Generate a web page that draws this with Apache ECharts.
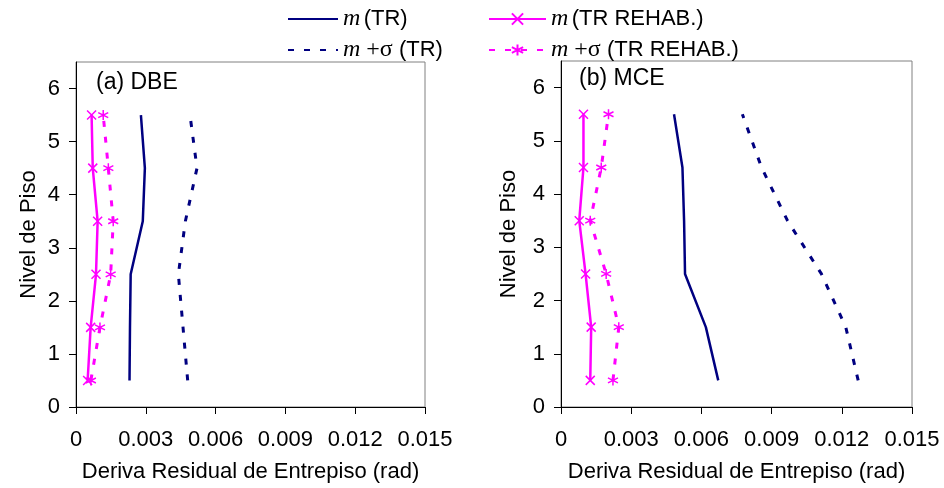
<!DOCTYPE html>
<html>
<head>
<meta charset="utf-8">
<script src="https://cdn.jsdelivr.net/npm/echarts@6/dist/echarts.min.js"></script>
<style>
  html, body { margin: 0; padding: 0; background: #fff; }
  #chart { width: 944px; height: 488px; }
</style>
</head>
<body>
<div id="chart"></div>
<script>
// floor levels (y) shared by both panels
const floors = [0.5, 1.5, 2.5, 3.5, 4.5, 5.5];
const yTicks = [0, 1, 2, 3, 4, 5, 6];

// (a) DBE - residual drift per floor
const dbeMeanTR = [0.0023, 0.00232, 0.00235, 0.00287, 0.00296, 0.00279];
const dbeSigmaTR = [0.0048, 0.0046, 0.0044, 0.0047, 0.0052, 0.0049];
const dbeMeanRehab = [0.0005, 0.00063, 0.00086, 0.00093, 0.00072, 0.00067];
const dbeSigmaRehab = [0.00064, 0.00103, 0.00149, 0.0016, 0.00139, 0.00117];

// (b) MCE
const mceMeanTR = [0.00672, 0.00619, 0.0053, 0.00526, 0.00519, 0.00483];
const mceSigmaTR = [0.0127, 0.01217, 0.01113, 0.00968, 0.00857, 0.00775];
const mceMeanRehab = [0.00125, 0.00129, 0.00105, 0.00078, 0.00096, 0.00096];
const mceSigmaRehab = [0.00222, 0.00247, 0.00193, 0.00125, 0.00172, 0.00203];

const NAVY = '#000080';
const MAGENTA = '#ff00ff';
const crossIcon = 'path://M0,0L10,10M10,0L0,10';
const starIcon = 'path://M5,0L5,10M0.7,2.5L9.3,7.5M0.7,7.5L9.3,2.5';

const font = 'Liberation Sans, Arial, sans-serif';
const serif = 'Liberation Serif, Times New Roman, serif';

const pairs = (xs) => xs.map((x, i) => [x, floors[i]]);

function makeSeries(idx, meanTR, sigmaTR, meanRehab, sigmaRehab) {
  return [
    {
      name: 'm (TR)', type: 'line', xAxisIndex: idx, yAxisIndex: idx,
      data: pairs(meanTR), symbol: 'none',
      lineStyle: { color: NAVY, width: 2.5 }, itemStyle: { color: NAVY }
    },
    {
      name: 'm +σ (TR)', type: 'line', xAxisIndex: idx, yAxisIndex: idx,
      data: pairs(sigmaTR), symbol: 'none',
      lineStyle: { color: NAVY, width: 3, type: [6, 10] }, itemStyle: { color: NAVY }
    },
    {
      name: 'm (TR REHAB.)', type: 'line', xAxisIndex: idx, yAxisIndex: idx,
      data: pairs(meanRehab), symbol: crossIcon, symbolSize: 9,
      lineStyle: { color: MAGENTA, width: 2.5 },
      itemStyle: { color: MAGENTA, borderColor: MAGENTA, borderWidth: 1.5 }
    },
    {
      name: 'm +σ (TR REHAB.)', type: 'line', xAxisIndex: idx, yAxisIndex: idx,
      data: pairs(sigmaRehab), symbol: starIcon, symbolSize: 10,
      lineStyle: { color: MAGENTA, width: 3, type: [6, 10] },
      itemStyle: { color: MAGENTA, borderColor: MAGENTA, borderWidth: 1.5 }
    }
  ];
}

function xAxisFor(idx) {
  return {
    type: 'value', gridIndex: idx, min: 0, max: 0.015, interval: 0.003,
    name: 'Deriva Residual de Entrepiso (rad)', nameLocation: 'middle', nameGap: 54,
    nameTextStyle: { fontFamily: font, fontSize: 22, color: '#000' },
    axisLine: { lineStyle: { color: '#000', width: 1 } },
    axisTick: { show: true, inside: false, length: 7, lineStyle: { color: '#000' } },
    axisLabel: {
      fontFamily: font, fontSize: 22, color: '#000', margin: 22,
      formatter: (v) => (v === 0 ? '0' : v.toFixed(3))
    },
    splitLine: { show: false }
  };
}

function yAxisFor(idx, gap) {
  return {
    type: 'value', gridIndex: idx, min: 0, max: 6.5, interval: 1,
    name: 'Nivel de Piso', nameLocation: 'middle', nameGap: gap, nameRotate: 90,
    nameTextStyle: { fontFamily: font, fontSize: 22, color: '#000' },
    axisLine: { show: true, lineStyle: { color: '#000', width: 1 } },
    axisTick: { show: true, inside: false, length: 7, customValues: yTicks, lineStyle: { color: '#000' } },
    axisLabel: { fontFamily: font, fontSize: 22, color: '#000', margin: 16, customValues: yTicks },
    splitLine: { show: false }
  };
}

const legendRich = {
  i: { fontFamily: serif, fontStyle: 'italic', fontSize: 24, lineHeight: 22, color: '#000' },
  s: { fontFamily: serif, fontSize: 24, lineHeight: 22, color: '#000' },
  t: { fontFamily: font, fontSize: 22, lineHeight: 22, color: '#000' }
};
const legendFormat = (name) => {
  if (name.indexOf('+σ') >= 0) return '{i|m }{s|+σ}{t|' + name.slice(4) + '}';
  return '{i|m} {t|' + name.slice(2) + '}';
};
// TR series have no markers: hide the legend symbol, keep the line
const hidden = { opacity: 0 };

const chart = echarts.init(document.getElementById('chart'), null, { renderer: 'canvas' });
chart.setOption({
  animation: false,
  backgroundColor: '#fff',
  title: [
    { text: '(a) DBE', left: 91, top: 66, textStyle: { fontFamily: font, fontSize: 23, fontWeight: 'normal', color: '#000' } },
    { text: '(b) MCE', left: 574, top: 62, textStyle: { fontFamily: font, fontSize: 23, fontWeight: 'normal', color: '#000' } }
  ],
  legend: [
    {
      data: [{ name: 'm (TR)', itemStyle: hidden }, { name: 'm +σ (TR)', itemStyle: hidden }],
      orient: 'vertical', left: 282, top: 2,
      itemWidth: 50, itemHeight: 14, itemGap: 7,
      formatter: legendFormat, textStyle: { rich: legendRich }
    },
    {
      data: ['m (TR REHAB.)', 'm +σ (TR REHAB.)'], orient: 'vertical', left: 483, top: 2,
      itemWidth: 57, itemHeight: 14, itemGap: 7,
      formatter: legendFormat, textStyle: { rich: legendRich }
    }
  ],
  grid: [
    { left: 76, right: 519, top: 62, bottom: 81, show: true, borderColor: '#808080', borderWidth: 1, backgroundColor: 'transparent' },
    { left: 561, right: 32, top: 61, bottom: 81, show: true, borderColor: '#808080', borderWidth: 1, backgroundColor: 'transparent' }
  ],
  xAxis: [xAxisFor(0), xAxisFor(1)],
  yAxis: [yAxisFor(0, 36), yAxisFor(1, 41)],
  series: [
    ...makeSeries(0, dbeMeanTR, dbeSigmaTR, dbeMeanRehab, dbeSigmaRehab),
    ...makeSeries(1, mceMeanTR, mceSigmaTR, mceMeanRehab, mceSigmaRehab)
  ]
});
</script>
</body>
</html>
